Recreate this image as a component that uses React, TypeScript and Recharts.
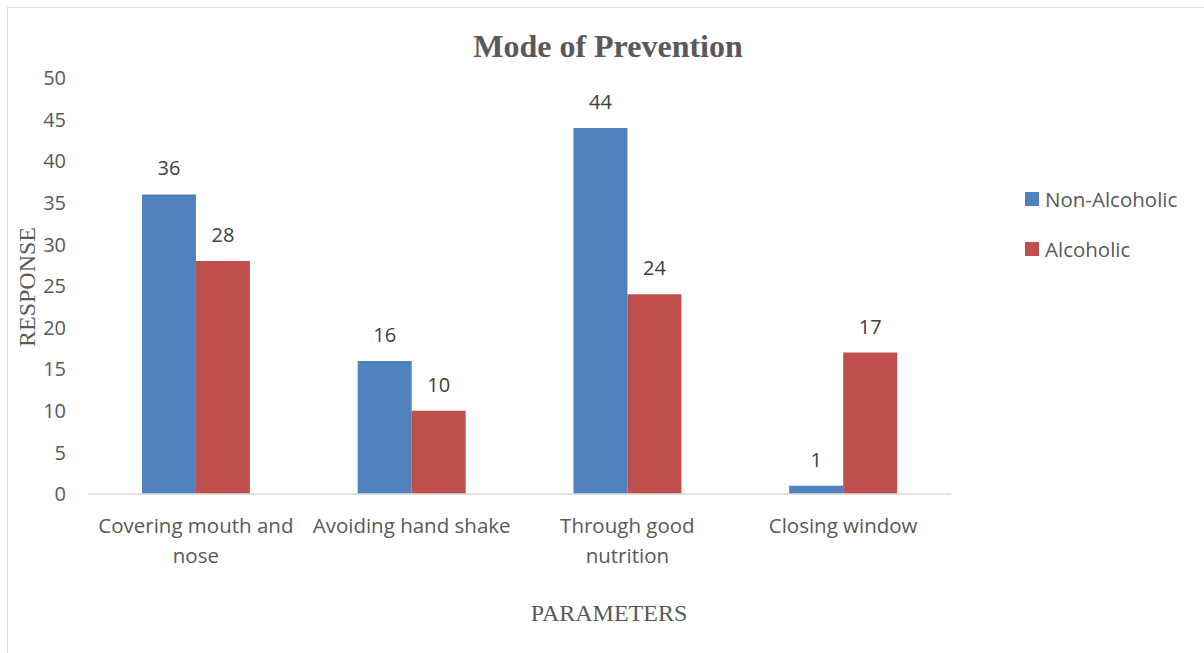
import { BarChart, Bar, XAxis, YAxis, LabelList, Legend } from "recharts"

const categories = ["Covering mouth and nose", "Avoiding hand shake", "Through good nutrition", "Closing window"]
const nonAlcoholic = [36, 16, 44, 1]
const alcoholic = [28, 10, 24, 17]
const yTicks = [0, 5, 10, 15, 20, 25, 30, 35, 40, 45, 50]

// wrapped lines for the category ticks
const tickLines: Record<string, string[]> = {
  "Covering mouth and nose": ["Covering mouth and", "nose"],
  "Avoiding hand shake": ["Avoiding hand shake"],
  "Through good nutrition": ["Through good", "nutrition"],
  "Closing window": ["Closing window"],
}

const data = categories.map((name, i) => ({
  name,
  nonAlcoholic: nonAlcoholic[i],
  alcoholic: alcoholic[i],
}))

const BLUE = "#4f81bd"
const RED = "#c0504d"
const TEXT = "#595959"
const SANS = "'Open Sans', 'Liberation Sans', sans-serif"
const SERIF = "'Liberation Serif', 'Times New Roman', serif"

const CategoryTick = (props: any) => {
  const { x, y, payload } = props
  const lines = tickLines[payload.value] || [payload.value]
  return (
    <text x={x} y={y} textAnchor="middle" fill={TEXT} fontSize={20.5} fontFamily={SANS}>
      {lines.map((l, i) => (
        <tspan key={i} x={x} dy={i === 0 ? 31 : 30}>
          {l}
        </tspan>
      ))}
    </text>
  )
}

const LegendContent = () => (
  <div style={{ fontFamily: SANS, fontSize: 20.5, color: TEXT }}>
    {[
      { label: "Non-Alcoholic", color: BLUE },
      { label: "Alcoholic", color: RED },
    ].map((it, i) => (
      <div key={i} style={{ display: "flex", alignItems: "center", height: 26, marginBottom: i === 0 ? 24 : 0 }}>
        <span style={{ width: 14, height: 14, background: it.color, display: "inline-block", marginRight: 6 }} />
        <span>{it.label}</span>
      </div>
    ))}
  </div>
)

export default function App() {
  return (
    <div style={{ position: "absolute", left: 0, top: 0, width: 1204, height: 653, background: "#fff", overflow: "hidden" }}>
      <div
        style={{
          position: "absolute",
          left: 7,
          top: 7,
          width: 1220,
          height: 680,
          border: "1px solid #d9d9d9",
          boxSizing: "border-box",
        }}
      />
      <div
        style={{
          position: "absolute",
          left: 0,
          top: 28,
          width: 1216,
          textAlign: "center",
          fontFamily: SERIF,
          fontWeight: "bold",
          fontSize: 32,
          color: TEXT,
        }}
      >
        Mode of Prevention
      </div>
      <div
        style={{
          position: "absolute",
          left: 0,
          top: 600,
          width: 1218,
          textAlign: "center",
          fontFamily: SERIF,
          fontSize: 24,
          color: TEXT,
        }}
      >
        PARAMETERS
      </div>
      <div
        style={{
          position: "absolute",
          left: 27,
          top: 287,
          transform: "translate(-50%, -50%) rotate(-90deg)",
          fontFamily: SERIF,
          fontSize: 24,
          color: TEXT,
          whiteSpace: "nowrap",
        }}
      >
        RESPONSE
      </div>
      <div style={{ position: "absolute", left: 0, top: 0 }}>
        <BarChart
          width={1204}
          height={653}
          data={data}
          margin={{ top: 78, right: 83, left: 28, bottom: 99 }}
          barCategoryGap="25%"
          barGap={0}
        >
          <XAxis
            dataKey="name"
            tick={<CategoryTick />}
            tickLine={false}
            axisLine={{ stroke: "#d9d9d9", strokeWidth: 1.5 }}
            interval={0}
            height={60}
          />
          <YAxis
            domain={[0, 50]}
            ticks={yTicks}
            axisLine={false}
            tickLine={false}
            tickSize={0}
            tickMargin={22}
            width={60}
            tick={{ fill: TEXT, fontSize: 20, fontFamily: SANS }}
          />
          <Legend
            layout="vertical"
            verticalAlign="top"
            align="right"
            content={<LegendContent />}
            wrapperStyle={{ left: 1025, top: 186, width: 170 }}
          />
          <Bar dataKey="nonAlcoholic" name="Non-Alcoholic" fill={BLUE} isAnimationActive={false}>
            <LabelList dataKey="nonAlcoholic" position="top" offset={19} fill="#404040" fontSize={20} fontFamily={SANS} />
          </Bar>
          <Bar dataKey="alcoholic" name="Alcoholic" fill={RED} isAnimationActive={false}>
            <LabelList dataKey="alcoholic" position="top" offset={19} fill="#404040" fontSize={20} fontFamily={SANS} />
          </Bar>
        </BarChart>
      </div>
    </div>
  )
}
